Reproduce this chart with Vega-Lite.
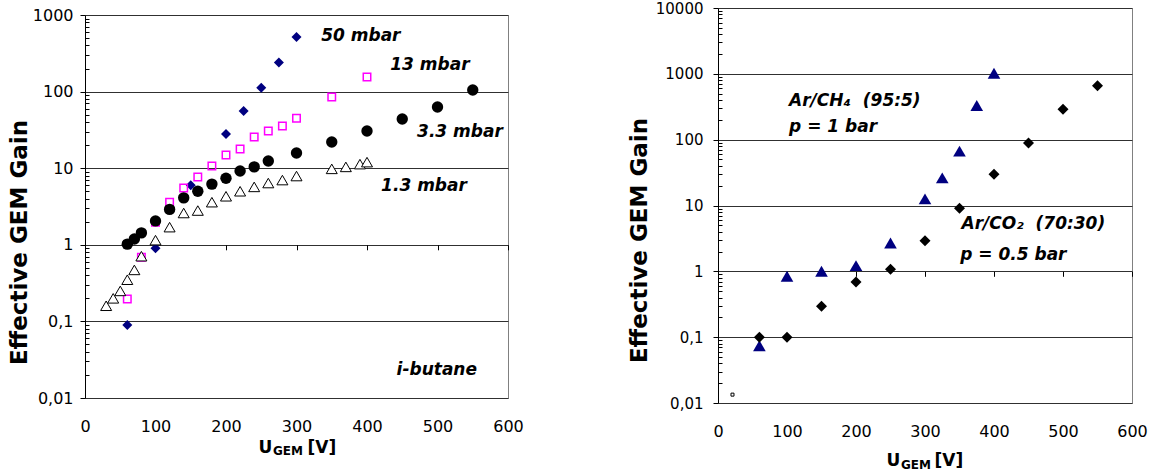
{
  "$schema": "https://vega.github.io/schema/vega-lite/v6.json",
  "background": "white",
  "padding": {"left": 7, "top": 0, "right": 0, "bottom": 0},
  "spacing": 104,
  "config": {
    "font": "DejaVu Sans",
    "view": {"stroke": "#808080", "strokeWidth": 1},
    "axis": {
      "labelFont": "DejaVu Sans", "labelFontSize": 16, "labelColor": "#000000",
      "titleFont": "DejaVu Sans", "titleColor": "#000000", "titleFontWeight": "bold",
      "labelFlush": false, "labelOverlap": false, "labelBound": false,
      "tickColor": "#000000", "domainColor": "#000000"
    }
  },
  "datasets": {
    "ibutane": [
      {"series": "50 mbar", "U": 60, "gain": 0.09},
      {"series": "50 mbar", "U": 100, "gain": 0.9},
      {"series": "50 mbar", "U": 150, "gain": 6.0},
      {"series": "50 mbar", "U": 200, "gain": 28},
      {"series": "50 mbar", "U": 225, "gain": 56},
      {"series": "50 mbar", "U": 250, "gain": 112},
      {"series": "50 mbar", "U": 275, "gain": 240},
      {"series": "50 mbar", "U": 300, "gain": 515},
      {"series": "13 mbar", "U": 60, "gain": 0.196},
      {"series": "13 mbar", "U": 80, "gain": 0.69},
      {"series": "13 mbar", "U": 100, "gain": 1.97},
      {"series": "13 mbar", "U": 120, "gain": 3.6},
      {"series": "13 mbar", "U": 140, "gain": 5.5},
      {"series": "13 mbar", "U": 160, "gain": 7.7},
      {"series": "13 mbar", "U": 180, "gain": 10.7},
      {"series": "13 mbar", "U": 200, "gain": 14.9},
      {"series": "13 mbar", "U": 220, "gain": 17.8},
      {"series": "13 mbar", "U": 240, "gain": 25.5},
      {"series": "13 mbar", "U": 260, "gain": 30.6},
      {"series": "13 mbar", "U": 280, "gain": 35.5},
      {"series": "13 mbar", "U": 300, "gain": 45},
      {"series": "13 mbar", "U": 350, "gain": 85},
      {"series": "13 mbar", "U": 400, "gain": 155},
      {"series": "3.3 mbar", "U": 60, "gain": 1.02},
      {"series": "3.3 mbar", "U": 70, "gain": 1.19},
      {"series": "3.3 mbar", "U": 80, "gain": 1.43},
      {"series": "3.3 mbar", "U": 100, "gain": 2.05},
      {"series": "3.3 mbar", "U": 120, "gain": 2.9},
      {"series": "3.3 mbar", "U": 140, "gain": 4.1},
      {"series": "3.3 mbar", "U": 160, "gain": 5.0},
      {"series": "3.3 mbar", "U": 180, "gain": 6.2},
      {"series": "3.3 mbar", "U": 200, "gain": 7.4},
      {"series": "3.3 mbar", "U": 220, "gain": 9.2},
      {"series": "3.3 mbar", "U": 240, "gain": 10.4},
      {"series": "3.3 mbar", "U": 260, "gain": 12.4},
      {"series": "3.3 mbar", "U": 300, "gain": 15.8},
      {"series": "3.3 mbar", "U": 350, "gain": 22},
      {"series": "3.3 mbar", "U": 400, "gain": 30.6},
      {"series": "3.3 mbar", "U": 450, "gain": 43.9},
      {"series": "3.3 mbar", "U": 500, "gain": 63},
      {"series": "3.3 mbar", "U": 550, "gain": 105},
      {"series": "1.3 mbar", "U": 30, "gain": 0.16},
      {"series": "1.3 mbar", "U": 40, "gain": 0.2},
      {"series": "1.3 mbar", "U": 50, "gain": 0.25},
      {"series": "1.3 mbar", "U": 60, "gain": 0.35},
      {"series": "1.3 mbar", "U": 70, "gain": 0.47},
      {"series": "1.3 mbar", "U": 80, "gain": 0.71},
      {"series": "1.3 mbar", "U": 100, "gain": 1.15},
      {"series": "1.3 mbar", "U": 120, "gain": 1.7},
      {"series": "1.3 mbar", "U": 140, "gain": 2.6},
      {"series": "1.3 mbar", "U": 160, "gain": 2.8},
      {"series": "1.3 mbar", "U": 180, "gain": 3.6},
      {"series": "1.3 mbar", "U": 200, "gain": 4.3},
      {"series": "1.3 mbar", "U": 220, "gain": 5.0},
      {"series": "1.3 mbar", "U": 240, "gain": 5.7},
      {"series": "1.3 mbar", "U": 260, "gain": 6.4},
      {"series": "1.3 mbar", "U": 280, "gain": 7.0},
      {"series": "1.3 mbar", "U": 300, "gain": 7.9},
      {"series": "1.3 mbar", "U": 350, "gain": 9.8},
      {"series": "1.3 mbar", "U": 370, "gain": 10.4},
      {"series": "1.3 mbar", "U": 390, "gain": 11.3},
      {"series": "1.3 mbar", "U": 400, "gain": 12.0}
    ],
    "ann_left": [
      {"label": "50 mbar", "U": 335, "gain": 532},
      {"label": "13 mbar", "U": 433, "gain": 223},
      {"label": "3.3 mbar", "U": 471, "gain": 30},
      {"label": "1.3 mbar", "U": 420, "gain": 5.8},
      {"label": "i-butane", "U": 442, "gain": 0.0234}
    ],
    "argas": [
      {"series": "Ar/CH4", "U": 60, "gain": 0.074},
      {"series": "Ar/CH4", "U": 100, "gain": 0.84},
      {"series": "Ar/CH4", "U": 150, "gain": 1.0},
      {"series": "Ar/CH4", "U": 200, "gain": 1.22},
      {"series": "Ar/CH4", "U": 250, "gain": 2.69},
      {"series": "Ar/CH4", "U": 300, "gain": 12.6},
      {"series": "Ar/CH4", "U": 325, "gain": 26.3},
      {"series": "Ar/CH4", "U": 350, "gain": 67},
      {"series": "Ar/CH4", "U": 375, "gain": 330},
      {"series": "Ar/CH4", "U": 400, "gain": 1020},
      {"series": "Ar/CO2", "U": 60, "gain": 0.1},
      {"series": "Ar/CO2", "U": 100, "gain": 0.1},
      {"series": "Ar/CO2", "U": 150, "gain": 0.294},
      {"series": "Ar/CO2", "U": 200, "gain": 0.69},
      {"series": "Ar/CO2", "U": 250, "gain": 1.08},
      {"series": "Ar/CO2", "U": 300, "gain": 2.92},
      {"series": "Ar/CO2", "U": 350, "gain": 9.1},
      {"series": "Ar/CO2", "U": 400, "gain": 29.9},
      {"series": "Ar/CO2", "U": 450, "gain": 89},
      {"series": "Ar/CO2", "U": 500, "gain": 290},
      {"series": "Ar/CO2", "U": 550, "gain": 662},
      {"series": "other", "U": 21, "gain": 0.0134}
    ],
    "ann_right": [
      {"label": "Ar/CH₄\u00a0 (95:5)", "U": 103, "gain": 392},
      {"label": "p = 1 bar", "U": 103, "gain": 155},
      {"label": "Ar/CO₂\u00a0 (70:30)", "U": 353, "gain": 5.3},
      {"label": "p = 0.5 bar", "U": 351, "gain": 1.79}
    ]
  },
  "hconcat": [
    {
      "spacing": -3,
      "vconcat": [
        {
          "width": 423,
          "height": 1,
          "view": {"stroke": null},
          "data": {"values": []},
          "mark": {"type": "point"},
          "encoding": {}
        },
        {
          "width": 423,
          "height": 383,
          "resolve": {"axis": {"x": "independent"}},
          "layer": [
            {
              "data": {"name": "ibutane"},
              "transform": [{"filter": "datum.series === '50 mbar'"}],
              "mark": {"type": "point", "shape": "diamond", "filled": true, "fill": "#000080", "stroke": null, "size": 100, "opacity": 1},
              "encoding": {
                "x": {"field": "U", "type": "quantitative", "scale": {"domain": [0, 600], "nice": false},
                  "axis": {"orient": "bottom", "values": [0, 100, 200, 300, 400, 500, 600], "ticks": false, "domain": false, "grid": false, "labelPadding": 20,
                    "title": "U", "titleFontSize": 17, "titleAlign": "left", "titleBaseline": "middle", "titleX": 173, "titleY": 49}},
                "y": {"field": "gain", "type": "quantitative", "scale": {"type": "log", "domain": [0.01, 1000], "nice": false},
                  "axis": {
                    "values": [0.01,0.02,0.03,0.04,0.05,0.06,0.07,0.08,0.09,0.1,0.2,0.3,0.4,0.5,0.6,0.7,0.8,0.9,1,2,3,4,5,6,7,8,9,10,20,30,40,50,60,70,80,90,100,200,300,400,500,600,700,800,900,1000],
                    "labelExpr": "abs(log(datum.value)/LN10 - round(log(datum.value)/LN10)) < 0.001 ? replace(format(datum.value, '~r'), '.', ',') : ''",
                    "tickSize": {"condition": {"test": "abs(log(datum.value)/LN10 - round(log(datum.value)/LN10)) < 0.001", "value": 5}, "value": -4},
                    "domain": true, "domainColor": "#000000",
                    "grid": true, "gridColor": "#303030",
                    "gridOpacity": {"condition": {"test": "abs(log(datum.value)/LN10 - round(log(datum.value)/LN10)) < 0.001", "value": 1}, "value": 0},
                    "labelPadding": 7,
                    "title": "Effective GEM Gain", "titleFontSize": 23, "titleBaseline": "middle", "titleX": -66, "titleY": 227
                  }}
              }
            },
            {
              "data": {"name": "ibutane"},
              "transform": [{"filter": "datum.series === '13 mbar'"}],
              "mark": {"type": "point", "shape": "square", "filled": false, "stroke": "#FF00FF", "strokeWidth": 1.5, "size": 56, "opacity": 1},
              "encoding": {
                "x": {"field": "U", "type": "quantitative",
                  "axis": {"orient": "bottom", "ticks": false, "labels": false, "domain": false, "grid": false,
                    "title": "[V]", "titleFontSize": 17, "titleAlign": "left", "titleBaseline": "middle", "titleX": 222, "titleY": 49}},
                "y": {"field": "gain", "type": "quantitative"}
              }
            },
            {
              "data": {"name": "ibutane"},
              "transform": [{"filter": "datum.series === '3.3 mbar'"}],
              "mark": {"type": "point", "shape": "circle", "filled": true, "fill": "#000000", "size": 130, "opacity": 1},
              "encoding": {
                "x": {"field": "U", "type": "quantitative", "axis": null},
                "y": {"field": "gain", "type": "quantitative"}
              }
            },
            {
              "data": {"name": "ibutane"},
              "transform": [{"filter": "datum.series === '1.3 mbar'"}],
              "mark": {"type": "point", "shape": "triangle-up", "filled": true, "fill": "#ffffff", "stroke": "#000000", "strokeWidth": 1, "size": 121, "opacity": 1},
              "encoding": {
                "x": {"field": "U", "type": "quantitative", "axis": null},
                "y": {"field": "gain", "type": "quantitative"}
              }
            },
            {
              "data": {"name": "ann_left"},
              "mark": {"type": "text", "align": "left", "baseline": "middle", "font": "DejaVu Sans", "fontSize": 17, "fontWeight": "bold", "fontStyle": "italic", "color": "#000000"},
              "encoding": {
                "x": {"field": "U", "type": "quantitative",
                  "axis": {"orient": "bottom", "offset": -153.2, "values": [0, 100, 200, 300, 400, 500, 600], "ticks": true, "tickSize": 5, "labels": false, "domain": false, "grid": false,
                    "title": "GEM", "titleFontSize": 12, "titleAlign": "center", "titleBaseline": "middle", "titleX": 202.5, "titleY": 206}},
                "y": {"field": "gain", "type": "quantitative"},
                "text": {"field": "label"}
              }
            }
          ]
        }
      ]
    },
    {
      "width": 414,
      "height": 395,
      "resolve": {"axis": {"x": "independent"}},
      "layer": [
        {
          "data": {"name": "argas"},
          "transform": [{"filter": "datum.series === 'Ar/CH4'"}],
          "mark": {"type": "point", "shape": "triangle-up", "filled": true, "fill": "#000080", "size": 160, "opacity": 1},
          "encoding": {
            "x": {"field": "U", "type": "quantitative", "scale": {"domain": [0, 600], "nice": false},
              "axis": {"orient": "bottom", "values": [0, 100, 200, 300, 400, 500, 600], "ticks": false, "domain": false, "grid": false, "labelPadding": 20,
                "title": "U", "titleFontSize": 17, "titleAlign": "left", "titleBaseline": "middle", "titleX": 168, "titleY": 57}},
            "y": {"field": "gain", "type": "quantitative", "scale": {"type": "log", "domain": [0.01, 10000], "nice": false},
              "axis": {
                "values": [0.01,0.02,0.03,0.04,0.05,0.06,0.07,0.08,0.09,0.1,0.2,0.3,0.4,0.5,0.6,0.7,0.8,0.9,1,2,3,4,5,6,7,8,9,10,20,30,40,50,60,70,80,90,100,200,300,400,500,600,700,800,900,1000,2000,3000,4000,5000,6000,7000,8000,9000,10000],
                "labelExpr": "abs(log(datum.value)/LN10 - round(log(datum.value)/LN10)) < 0.001 ? replace(format(datum.value, '~r'), '.', ',') : ''",
                "labelFontSize": 15,
                "tickSize": {"condition": {"test": "abs(log(datum.value)/LN10 - round(log(datum.value)/LN10)) < 0.001", "value": 5}, "value": -4},
                "domain": true, "domainColor": "#000000",
                "grid": true, "gridColor": "#303030",
                "gridOpacity": {"condition": {"test": "abs(log(datum.value)/LN10 - round(log(datum.value)/LN10)) < 0.001", "value": 1}, "value": 0},
                "labelPadding": 10,
                "title": "Effective GEM Gain", "titleFontSize": 23, "titleBaseline": "middle", "titleX": -78.5, "titleY": 232
              }}
          }
        },
        {
          "data": {"name": "argas"},
          "transform": [{"filter": "datum.series === 'Ar/CO2'"}],
          "mark": {"type": "point", "shape": "diamond", "filled": true, "fill": "#000000", "size": 121, "opacity": 1},
          "encoding": {
            "x": {"field": "U", "type": "quantitative",
              "axis": {"orient": "bottom", "ticks": false, "labels": false, "domain": false, "grid": false,
                "title": "[V]", "titleFontSize": 17, "titleAlign": "left", "titleBaseline": "middle", "titleX": 216, "titleY": 57}},
            "y": {"field": "gain", "type": "quantitative"}
          }
        },
        {
          "data": {"name": "argas"},
          "transform": [{"filter": "datum.series === 'other'"}],
          "mark": {"type": "point", "shape": "square", "filled": false, "stroke": "#000000", "strokeWidth": 1, "size": 9, "opacity": 1},
          "encoding": {
            "x": {"field": "U", "type": "quantitative", "axis": null},
            "y": {"field": "gain", "type": "quantitative"}
          }
        },
        {
          "data": {"name": "ann_right"},
          "mark": {"type": "text", "align": "left", "baseline": "middle", "font": "DejaVu Sans", "fontSize": 17, "fontWeight": "bold", "fontStyle": "italic", "color": "#000000"},
          "encoding": {
            "x": {"field": "U", "type": "quantitative",
              "axis": {"orient": "bottom", "offset": -131.7, "values": [0, 100, 200, 300, 400, 500, 600], "ticks": true, "tickSize": 5, "labels": false, "domain": false, "grid": false,
                "title": "GEM", "titleFontSize": 12, "titleAlign": "center", "titleBaseline": "middle", "titleX": 197.5, "titleY": 192.7}},
            "y": {"field": "gain", "type": "quantitative"},
            "text": {"field": "label"}
          }
        }
      ]
    }
  ]
}
